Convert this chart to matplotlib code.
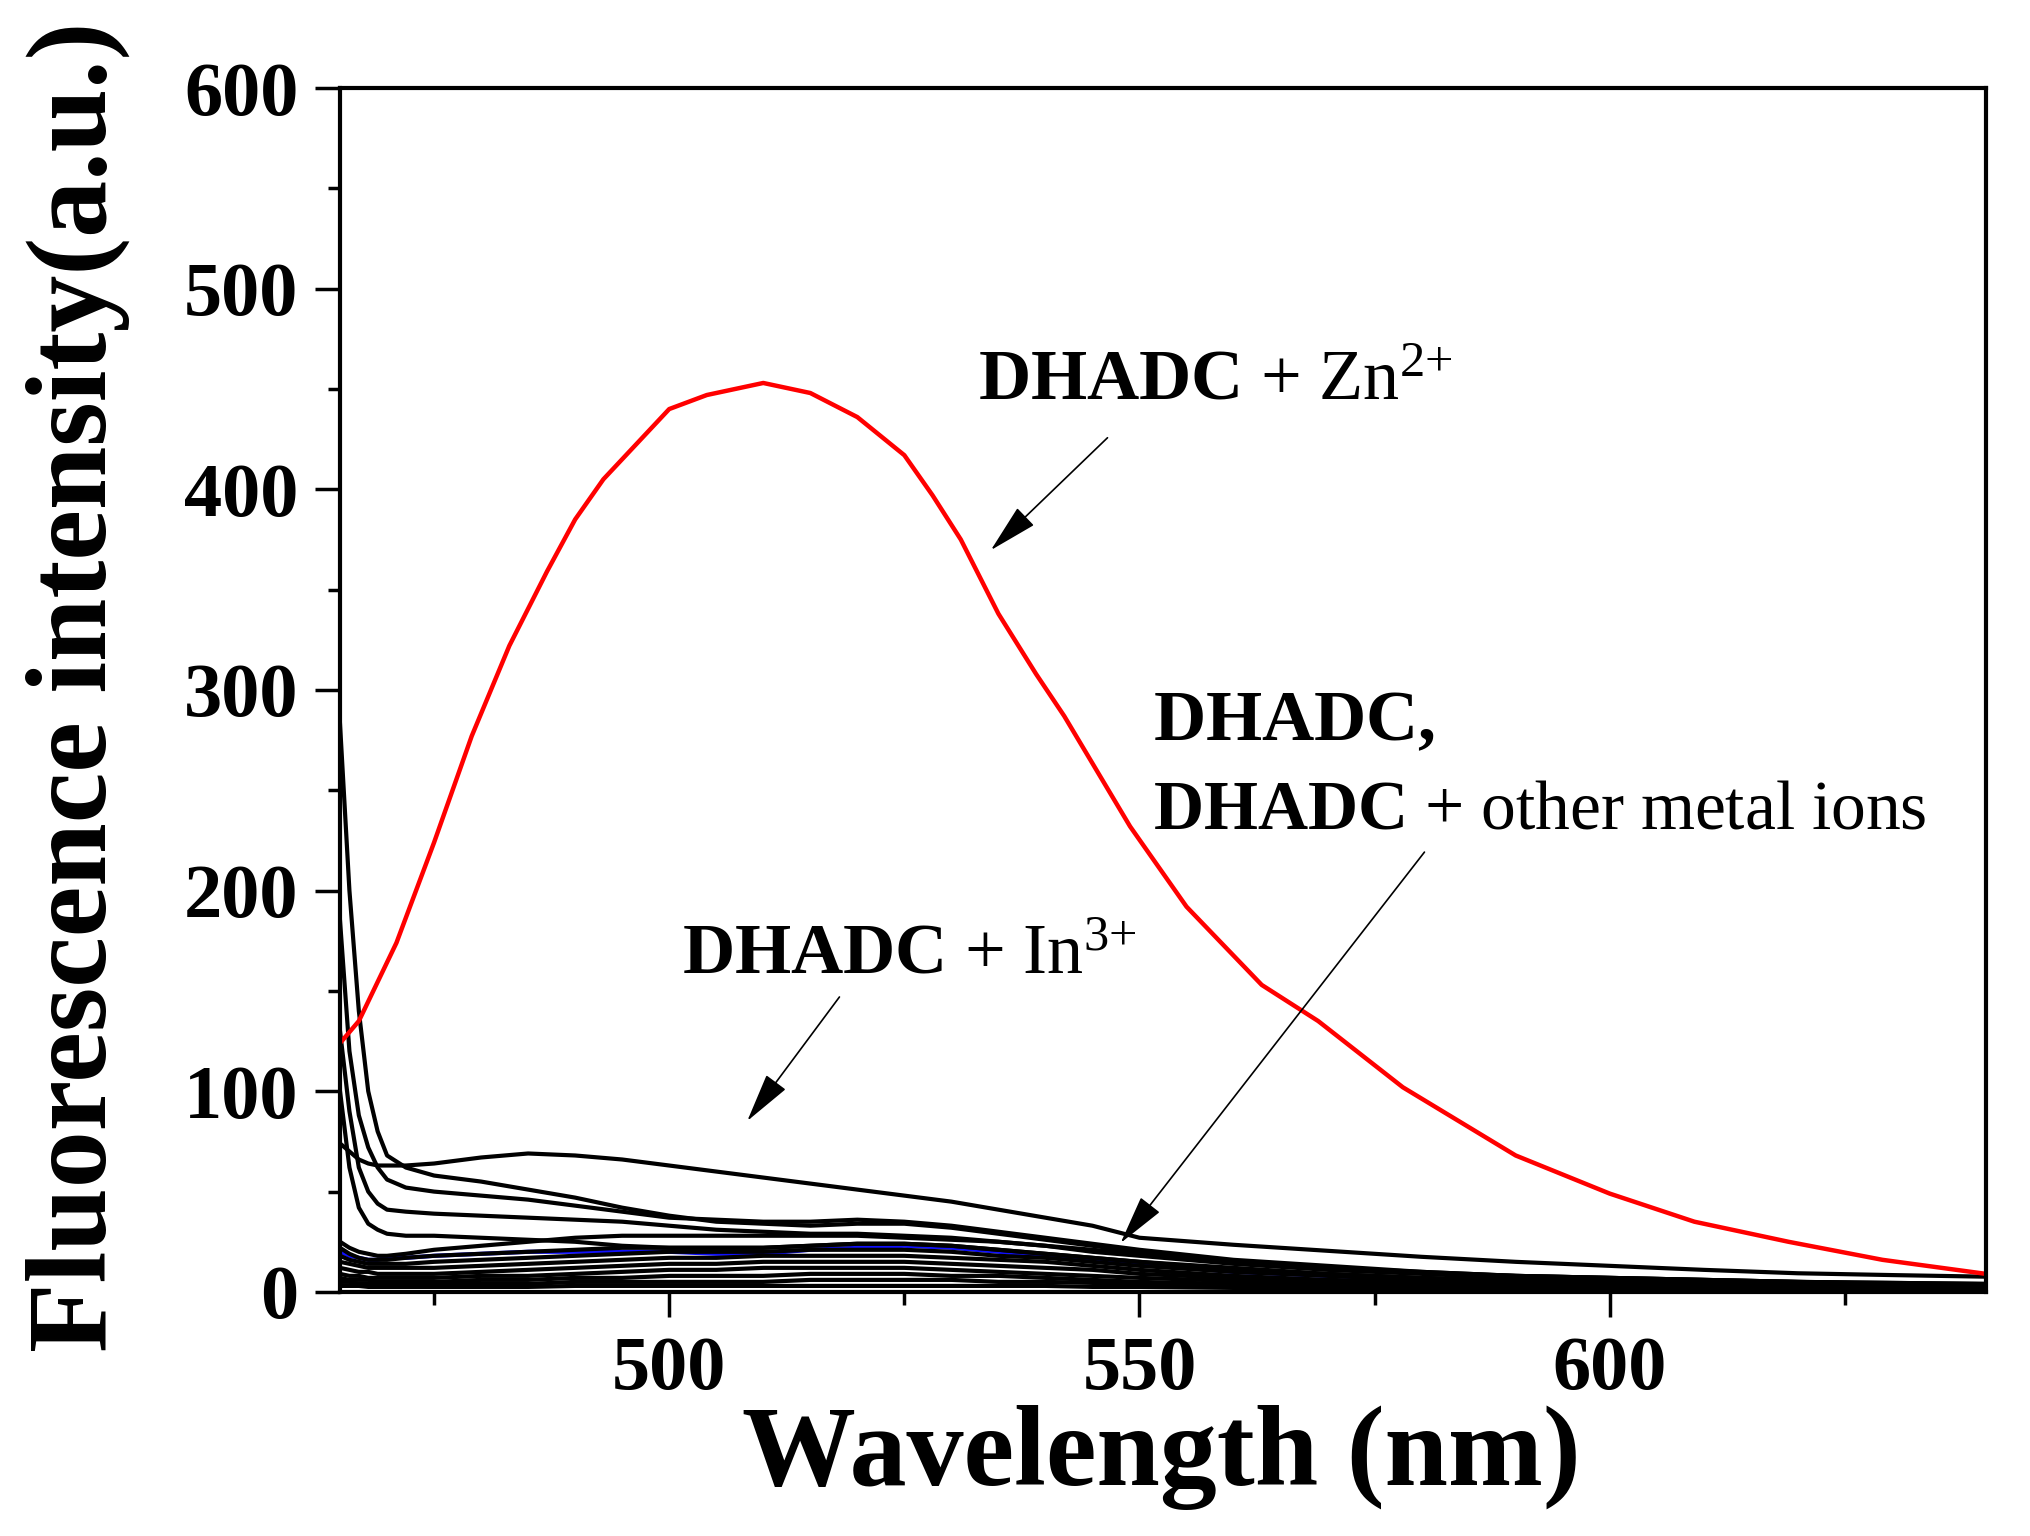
import matplotlib
matplotlib.use("Agg")
import matplotlib.pyplot as plt
from matplotlib.ticker import MultipleLocator

# ---------------------------------------------------------
# Data
# ---------------------------------------------------------
# DHADC + Zn2+ (red)
wl_zn = [465, 467, 471, 475, 479, 483, 487, 490, 493, 496, 500, 504, 510,
         515, 520, 525, 528, 531, 535, 539, 542, 549, 555, 563, 569, 578,
         590, 600, 609, 619, 629, 640]
zn = [124, 135, 174, 224, 277, 322, 359, 385, 405, 420, 440, 447, 453,
      448, 436, 417, 397, 375, 338, 308, 287, 232, 192, 153, 135, 102,
      68, 49, 35, 25, 16, 9]

# common wavelength grid for DHADC / DHADC + other metal ions
wl = [465, 466, 467, 468, 469, 470, 472, 475, 480, 485, 490, 495, 500, 505,
      510, 515, 520, 525, 530, 535, 540, 545, 550, 560, 570, 580, 590, 600,
      610, 620, 630, 640]

in3 = [74, 70, 66, 64, 63, 63, 63, 64, 67, 69, 68, 66, 63, 60, 57, 54, 51,
       48, 45, 41, 37, 33, 27, 23.5, 20.5, 17.5, 15, 13, 11, 9.3, 8.4, 7.6]
m1 = [283, 200, 140, 100, 80, 68, 62, 58, 55, 51, 47, 42, 38, 35, 34, 33, 34,
      34, 32, 29, 26, 23, 20, 15, 12, 10, 8, 7, 6, 5, 4.5, 4]
m2 = [185, 120, 88, 72, 62, 56, 52, 50, 48, 46, 43, 40, 37, 36, 35, 35, 36,
      35, 33, 30, 27, 24, 21, 16, 13, 10, 8, 7, 6, 5, 4, 3.5]
m3 = [130, 90, 62, 50, 44, 41, 40, 39, 38, 37, 36, 35, 33, 31, 30, 29, 29,
      28, 27, 25, 23, 20, 18, 14, 11, 9, 7, 6, 5, 4.5, 4, 3.5]
m4 = [100, 62, 42, 34, 31, 29, 28, 28, 27, 26, 25, 23, 22, 22, 22, 23, 24,
      24, 23, 21, 19, 17, 15, 12, 9, 7, 6, 5, 4, 3.5, 3, 2.5]
m5 = [22, 19, 17, 16, 16, 16, 17, 18, 19, 20, 21, 22, 22, 22, 22, 23, 24,
      24, 23, 21, 19, 17, 15, 11, 9, 7, 5, 4.5, 4, 3.5, 3, 2.5]
m6 = [18, 16, 15, 14, 14, 14, 14, 15, 16, 17, 18, 19, 20, 20, 20, 21, 21,
      21, 20, 18, 17, 15, 13, 10, 8, 6, 5, 4, 3.5, 3, 2.5, 2]
m7 = [15, 14, 13, 12, 12, 12, 12, 12, 13, 14, 15, 16, 17, 17, 18, 18, 18,
      18, 17, 16, 15, 13, 11, 8, 6, 5, 4, 3.5, 3, 2.5, 2, 2]
m8 = [12, 11, 10, 10, 9, 9, 9, 9, 10, 11, 12, 13, 14, 14, 15, 15, 15, 15,
      14, 13, 12, 11, 9, 7, 5, 4, 3.5, 3, 2.5, 2, 2, 1.5]
m9 = [9, 8, 8, 7, 7, 7, 7, 7, 8, 8, 9, 10, 11, 11, 12, 12, 12, 12, 11, 10,
      9, 8, 7, 5.5, 4.5, 3.5, 3, 2.5, 2, 2, 1.5, 1.5]
m10 = [7, 6, 6, 6, 5, 5, 5, 5, 6, 6, 7, 7, 8, 8, 8, 9, 9, 9, 8, 8, 7, 6, 5,
       4, 3.5, 3, 2.5, 2, 1.5, 1.5, 1, 1]
m11 = [5, 5, 4, 4, 4, 4, 4, 4, 4, 4, 5, 5, 5, 5, 5, 6, 6, 6, 6, 5, 5, 4.5,
       4, 3, 2.5, 2, 2, 1.5, 1, 1, 1, 1]
m12 = [3, 3, 3, 2.5, 2.5, 2.5, 2.5, 2.5, 2.5, 2.5, 3, 3, 3, 3, 3, 3, 3, 3,
       3, 3, 3, 2.5, 2.5, 2, 1.5, 1.5, 1, 1, 1, 0.5, 0.5, 0.5]
m13 = [25, 22, 20, 19, 18, 18, 19, 21, 23, 25, 27, 28, 28, 28, 28, 28, 28,
       27, 26, 25, 23, 21, 19, 15, 12, 9.5, 8, 7, 6, 5, 4.5, 4]
blue = [20, 18, 17, 16, 16, 17, 17, 18, 19, 20, 20, 20, 20, 19, 19, 21, 22,
        23, 22, 20, 18, 16, 14, 10, 8, 6, 5, 4, 3.5, 3, 2.5, 2]

black_curves = [in3, m1, m2, m3, m4, m5, m6, m7, m8, m9, m10, m11, m12, m13]

# ---------------------------------------------------------
# Style
# ---------------------------------------------------------
serif = "Liberation Serif"
plt.rcParams["font.family"] = [serif, "DejaVu Serif"]
plt.rcParams["mathtext.fontset"] = "custom"
plt.rcParams["mathtext.rm"] = serif
plt.rcParams["mathtext.bf"] = serif + ":bold"
plt.rcParams["mathtext.it"] = serif + ":italic"

fig = plt.figure(figsize=(20.3, 15.36), dpi=100)
ax = fig.add_axes([0.1675, 0.1589, 0.8108, 0.7838])

# ---------------------------------------------------------
# Spectra
# ---------------------------------------------------------
ax.plot(wl, blue, color="#1010ff", lw=3)
for c in black_curves:
    ax.plot(wl, c, color="black", lw=3, solid_joinstyle="round")
ax.plot(wl_zn, zn, color="#ff0000", lw=3.2, solid_joinstyle="round")

ax.set_xlim(465, 640)
ax.set_ylim(0, 600)

ax.xaxis.set_major_locator(MultipleLocator(50))
ax.xaxis.set_minor_locator(MultipleLocator(25))
ax.yaxis.set_major_locator(MultipleLocator(100))
ax.yaxis.set_minor_locator(MultipleLocator(50))

ax.tick_params(which="both", direction="out", top=False, right=False,
               width=2.5)
ax.tick_params(which="major", length=18, pad=12)
ax.tick_params(which="minor", length=9)
for lab in ax.get_xticklabels() + ax.get_yticklabels():
    lab.set_fontsize(55)
    lab.set_fontweight("bold")
ax.tick_params(axis="x", pad=14)

for sp in ax.spines.values():
    sp.set_linewidth(3)

fig.text(0.0384, 0.553, "Fluorescence intensity(a.u.)", rotation=90,
         ha="center", va="center", fontsize=82, fontweight="bold")
fig.text(0.572, 0.051, "Wavelength (nm)", ha="center", va="center",
         fontsize=82, fontweight="bold")

# ---------------------------------------------------------
# Annotations
# ---------------------------------------------------------
ax.text(532.8, 445, r"$\mathbf{DHADC}\ {+}\ \mathrm{Zn}^{2{+}}$",
        fontsize=52, ha="left", va="baseline")
ax.text(501.4, 158.7, r"$\mathbf{DHADC}\ {+}\ \mathrm{In}^{3{+}}$",
        fontsize=52, ha="left", va="baseline")
ax.text(551.4, 274.8, r"$\mathbf{DHADC,}$", fontsize=52,
        ha="left", va="baseline")
ax.text(551.4, 231, r"$\mathbf{DHADC}\ {+}\ \mathrm{other\ metal\ ions}$",
        fontsize=50, ha="left", va="baseline")

arrow = dict(arrowstyle="-|>,head_length=0.9,head_width=0.22",
             color="black", lw=1.2, mutation_scale=35, shrinkA=0, shrinkB=0)
ax.annotate("", xy=(534.2, 369.7), xytext=(546.6, 425.7), arrowprops=arrow)
ax.annotate("", xy=(508.3, 85.2), xytext=(518.1, 147), arrowprops=arrow)
ax.annotate("", xy=(548.0, 24.4), xytext=(580.3, 219.2), arrowprops=arrow)

fig.savefig("out.png", dpi=100)
